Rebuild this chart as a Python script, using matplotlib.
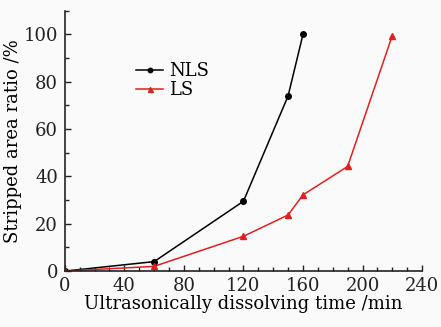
import matplotlib.pyplot as plt
from matplotlib.ticker import MultipleLocator

# data
nls_time = [0, 60, 120, 150, 160]
nls_ratio = [0, 4, 29.5, 74, 100]
ls_time = [0, 60, 120, 150, 160, 190, 220]
ls_ratio = [0, 2, 14.7, 23.7, 32.2, 44.2, 99.5]

plt.rcParams['font.family'] = ['DejaVu Serif']

fig = plt.figure(figsize=(4.41, 3.27), dpi=100, facecolor='#fafafa')
ax = fig.add_axes([0.147, 0.171, 0.81, 0.796])
ax.set_facecolor('#fafafa')

ax.plot(nls_time, nls_ratio, color='black', lw=1.1, marker='o', ms=4, label='NLS')
ax.plot(ls_time, ls_ratio, color='#e02020', lw=1.1, marker='^', ms=4.5, label='LS')

ax.set_xlim(0, 240)
ax.set_ylim(0, 110)
ax.xaxis.set_major_locator(MultipleLocator(40))
ax.xaxis.set_minor_locator(MultipleLocator(10))
ax.yaxis.set_major_locator(MultipleLocator(20))
ax.yaxis.set_minor_locator(MultipleLocator(10))
ax.tick_params(which='both', direction='in', labelsize=13, width=1, colors='#222222')
ax.tick_params(axis='x', pad=4)
ax.tick_params(axis='y', pad=5)
ax.tick_params(which='major', length=4)
ax.tick_params(which='minor', length=3)
ax.set_yticks([0, 20, 40, 60, 80, 100])

for s in ['top', 'right']:
    ax.spines[s].set_visible(False)
for s in ['left', 'bottom']:
    ax.spines[s].set_linewidth(1.2)
    ax.spines[s].set_color('#222222')

ax.set_xlabel('Ultrasonically dissolving time /min', fontsize=13, labelpad=0)
ax.set_ylabel('Stripped area ratio /%', fontsize=13, labelpad=1)

ax.legend(loc='upper left', bbox_to_anchor=(0.18, 0.83), frameon=False, fontsize=13,
          handlelength=1.5, handletextpad=0.3, labelspacing=0.05, borderaxespad=0,
          markerscale=0.8)

fig.savefig('out.png', dpi=100, facecolor=fig.get_facecolor())
